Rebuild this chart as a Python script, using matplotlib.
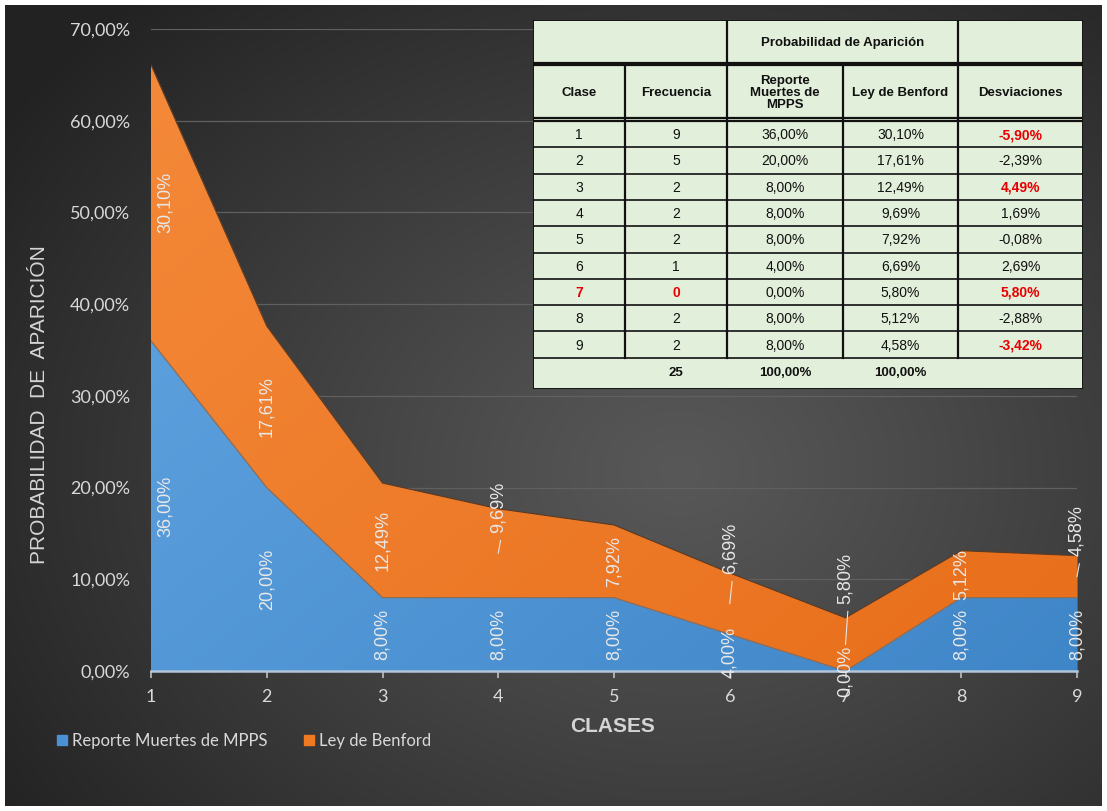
import numpy as np
import matplotlib.pyplot as plt
from matplotlib.patches import Patch, Rectangle
from matplotlib.colors import to_rgb

# Distribución de primeros dígitos: reporte MPPS frente a Ley de Benford
clases = [1, 2, 3, 4, 5, 6, 7, 8, 9]
frecuencia = [9, 5, 2, 2, 2, 1, 0, 2, 2]
benford = [30.10, 17.61, 12.49, 9.69, 7.92, 6.69, 5.80, 5.12, 4.58]
y_ticks = [0, 10, 20, 30, 40, 50, 60, 70]

total = sum(frecuencia)
reporte = [100.0 * f / total for f in frecuencia]
apilado = [r + b for r, b in zip(reporte, benford)]
desviacion = [b - r for r, b in zip(reporte, benford)]


def pct(v):
    return f"{v:.2f}%".replace(".", ",")


W, H = 1107, 811
fig = plt.figure(figsize=(W / 100, H / 100), dpi=100)
fig.patch.set_facecolor("white")

# fondo oscuro con degradado radial
bg = fig.add_axes([0, 0, 1, 1], zorder=-10)
bg.axis("off")
yy, xx = np.mgrid[0:H, 0:W]
t = np.sqrt(((xx - 680) / 820.0) ** 2 + ((yy - 470) / 640.0) ** 2)
t = np.clip(t, 0, 1) ** 1.1
c_in, c_out = np.array([88, 88, 88]) / 255, np.array([34, 34, 34]) / 255
img = c_in[None, None, :] * (1 - t[..., None]) + c_out[None, None, :] * t[..., None]
b = 5
img[:b, :] = 1
img[-b:, :] = 1
img[:, :b] = 1
img[:, -b:] = 1
bg.imshow(img, extent=[0, W, H, 0], aspect="auto")
bg.set_xlim(0, W)
bg.set_ylim(H, 0)

ax = fig.add_axes([151 / W, 1 - 671 / H, (1077 - 151) / W, (671 - 29) / H])
ax.set_facecolor("none")


def gradient_fill(poly, c1, c2):
    # degradado diagonal recortado a la forma del área
    n = 200
    gy, gx = np.mgrid[0:1:n * 1j, 0:1:n * 1j]
    s = np.clip(0.55 * gx + 0.45 * gy, 0, 1)[..., None]
    rgb = np.array(to_rgb(c1)) * (1 - s) + np.array(to_rgb(c2)) * s
    im = ax.imshow(rgb, extent=[1, 9, 0, 70], origin="upper", aspect="auto",
                   zorder=poly.get_zorder(), interpolation="bilinear")
    im.set_clip_path(poly.get_paths()[0], transform=ax.transData)


p_blue = ax.fill_between(clases, 0, reporte, color="#4a8fd2", lw=0, zorder=2)
p_orng = ax.fill_between(clases, reporte, apilado, color="#ed7824", lw=0, zorder=2)
gradient_fill(p_blue, "#64a6e3", "#3f86c8")
gradient_fill(p_orng, "#f48a3a", "#e86e1a")
ax.plot(clases, reporte, color="#8d6d58", lw=0.9, zorder=3)
ax.plot(clases, apilado, color="#5a3a24", lw=0.8, zorder=3)

ax.set_xlim(1, 9)
ax.set_ylim(0, 70)
ax.set_yticks(y_ticks)
ax.set_yticklabels([pct(v) for v in y_ticks])
ax.set_xticks(clases)
ax.set_xticklabels([str(c) for c in clases])
ax.yaxis.grid(True, color="#606060", lw=0.9)
ax.set_axisbelow(True)
for s in ["top", "right", "left"]:
    ax.spines[s].set_visible(False)
ax.spines["bottom"].set_color("#b2c6da")
ax.spines["bottom"].set_linewidth(1.8)
ax.spines["bottom"].set_zorder(4)
ax.tick_params(axis="y", length=0, pad=15, labelsize=13, labelcolor="#d9d9d9")
ax.tick_params(axis="x", length=5, width=1.2, color="#bfbfbf", direction="out",
               pad=8, labelsize=13, labelcolor="#d9d9d9")
for lab in ax.get_xticklabels() + ax.get_yticklabels():
    lab.set_fontfamily("Lato")

# etiquetas de datos (verticales), algunas desplazadas con línea guía
lbl = dict(rotation=90, ha="center", va="center", color="#e8e8e8",
           fontsize=13, family="Liberation Sans", zorder=6, clip_on=False)
lift = {4: 5.0, 6: 6.0, 7: 7.2, 9: 5.0}
for x, r, bz in zip(clases, reporte, benford):
    xl = x + 0.12 if x == 1 else x
    ax.text(xl, r / 2, pct(r), **lbl)
    mid = r + bz / 2
    up = lift.get(x, 0)
    ax.text(xl, mid + up, pct(bz), **lbl)
    if up:
        ax.plot([x, x + 0.02], [mid, mid + up - 3.6], color="#e6e6e6",
                lw=0.8, zorder=6, clip_on=False)

fig.text(40 / W, 1 - 405 / H, "PROBABILIDAD  DE  APARICIÓN", rotation=90,
         ha="center", va="center", fontsize=15, color="#d4d4d4",
         family="Liberation Sans")
fig.text(613 / W, 1 - 727 / H, "CLASES", ha="center", va="center",
         fontsize=15, fontweight="bold", color="#d4d4d4", family="Liberation Sans")

handles = [Patch(color="#4a90d4"), Patch(color="#ee7a22")]
fig.legend(handles, ["Reporte Muertes de MPPS", "Ley de Benford"],
           loc="center left", bbox_to_anchor=(42 / W, 1 - 741 / H), ncol=2,
           frameon=False, handlelength=0.6, handleheight=0.6,
           handletextpad=0.3, columnspacing=2.2,
           prop={"family": "Lato", "size": 12}, labelcolor="#d9d9d9")

# tabla de resumen
tb = fig.add_axes([533 / W, 1 - 389 / H, (1083 - 533) / W, (389 - 20) / H], zorder=20)
tb.set_xlim(533, 1083)
tb.set_ylim(389, 20)
tb.axis("off")
tb.add_patch(Rectangle((533, 20), 550, 369, facecolor="#e2efda",
                       edgecolor="#111111", lw=1.4))
cols = [533, 625, 727, 843, 958, 1083]
row_top, row_h = 121, 26.3
rows = [row_top + i * row_h for i in range(len(clases) + 1)]
k = dict(color="#111111", lw=1.2)
for y in [63, 65, 118, 121]:
    tb.plot([533, 1083], [y, y], color="#111111", lw=1.6)
for y in rows[1:]:
    tb.plot([533, 1083], [y, y], **k)
for x in [727, 958]:
    tb.plot([x, x], [20, 63], color="#111111", lw=1.6)
for x in cols[1:-1]:
    tb.plot([x, x], [65, rows[-1]], color="#111111", lw=1.6)

centers = [(cols[i] + cols[i + 1]) / 2 for i in range(5)]
txt = dict(ha="center", va="center", family="Liberation Sans", color="#111111")
tb.text((727 + 958) / 2, 43, "Probabilidad de Aparición", fontsize=9.5,
        fontweight="bold", **txt)
heads = ["Clase", "Frecuencia", "Reporte\nMuertes de\nMPPS", "Ley de Benford",
         "Desviaciones"]
for cx, h in zip(centers, heads):
    tb.text(cx, 93, h, fontsize=9.5, fontweight="bold", linespacing=1.0, **txt)

for i in range(len(clases)):
    yc = rows[i] + row_h / 2 + 1
    cero = frecuencia[i] == 0
    alto = abs(desviacion[i]) > 3
    vals = [str(clases[i]), str(frecuencia[i]), pct(reporte[i]), pct(benford[i]),
            pct(desviacion[i])]
    for j, (cx, v) in enumerate(zip(centers, vals)):
        red = (j < 2 and cero) or (j == 4 and alto)
        tb.text(cx, yc, v, fontsize=10, ha="center", va="center",
                family="Liberation Sans",
                color="#e60000" if red else "#111111",
                fontweight="bold" if red else "normal")

yt = (rows[-1] + 389) / 2
tb.text(centers[1], yt, str(total), fontsize=9.5, fontweight="bold", **txt)
tb.text(centers[2], yt, pct(sum(reporte)), fontsize=9.5, fontweight="bold", **txt)
tb.text(centers[3], yt, pct(sum(benford)), fontsize=9.5, fontweight="bold", **txt)

fig.savefig("out.png", dpi=100)
